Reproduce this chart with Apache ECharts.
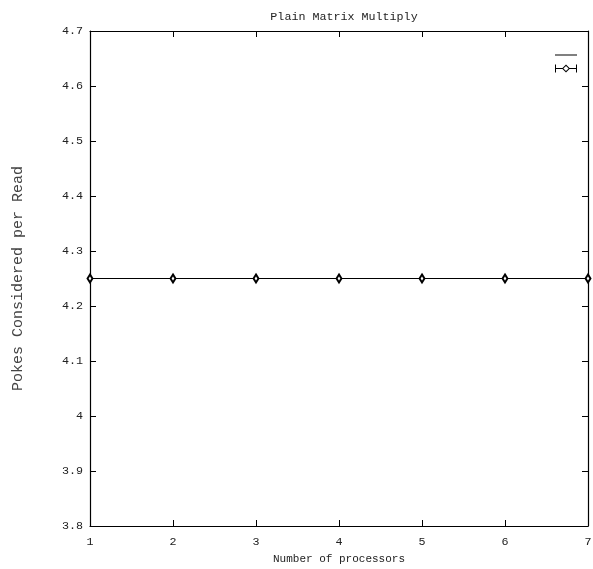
<!DOCTYPE html>
<html>
<head>
<meta charset="utf-8">
<script src="https://cdn.jsdelivr.net/npm/echarts@6/dist/echarts.min.js"></script>
<style>
html,body{margin:0;padding:0;background:#fff;}
#c{width:593px;height:569px;}
</style>
</head>
<body>
<div id="c"></div>
<script>
const titleText = 'Plain Matrix Multiply';
const xName = 'Number of processors';
const yName = 'Pokes Considered per Read';
const processors = [1, 2, 3, 4, 5, 6, 7];
const pokesPerRead = [4.25, 4.25, 4.25, 4.25, 4.25, 4.25, 4.25];
const yTicks = [3.8, 3.9, 4, 4.1, 4.2, 4.3, 4.4, 4.5, 4.6, 4.7];

const FONT = 'Liberation Mono';
const TXT = '#222';
const points = processors.map((p, i) => [p, pokesPerRead[i]]);

const chart = echarts.init(document.getElementById('c'), null, {renderer: 'canvas'});
const axisLine = {show: true, onZero: false, lineStyle: {color: '#000', width: 1.2}};
const axisTick = {show: true, inside: true, length: 6, lineStyle: {color: '#000', width: 1}};
chart.setOption({
  animation: false,
  backgroundColor: '#fff',
  title: {
    text: titleText, left: 339, top: 6, textAlign: 'center',
    textStyle: {fontFamily: FONT, fontSize: 11.7, fontWeight: 'normal', color: TXT}
  },
  grid: {left: 90, right: 5, top: 31, bottom: 43, containLabel: false, outerBoundsMode: 'none'},
  legend: {
    left: 555, top: 51, padding: 0, orient: 'vertical',
    itemWidth: 22, itemHeight: 8, itemGap: 9,
    formatter: () => '',
    data: [
      {name: 'lines', icon: 'path://M0,0H22V1H0Z'},
      {name: 'errorbars', icon: 'path://M0,3.5H7.6V4.5H0ZM14.4,3.5H22V4.5H14.4ZM0,0H1V8H0ZM21,0H22V8H21ZM11,0L15,4L11,8L7,4ZM11,1.4L8.4,4L11,6.6L13.6,4Z'}
    ],
    itemStyle: {color: '#000', borderWidth: 0}
  },
  xAxis: [{
    type: 'value', min: 1, max: 7, interval: 1, position: 'bottom',
    name: xName, nameLocation: 'middle', nameGap: 28,
    nameTextStyle: {fontFamily: FONT, fontSize: 11, color: TXT},
    axisLine, axisTick, splitLine: {show: false},
    axisLabel: {fontFamily: FONT, fontSize: 11.7, color: TXT, margin: 10}
  }, {
    type: 'value', min: 1, max: 7, interval: 1, position: 'top',
    axisLine, axisTick, splitLine: {show: false}, axisLabel: {show: false}
  }],
  yAxis: [{
    type: 'value', min: yTicks[0], max: yTicks[yTicks.length - 1], interval: 0.1, position: 'left',
    name: yName, nameLocation: 'middle', nameGap: 64,
    nameTextStyle: {fontFamily: FONT, fontSize: 15, color: '#444'},
    axisLine, axisTick, splitLine: {show: false},
    axisLabel: {fontFamily: FONT, fontSize: 11.7, color: TXT, margin: 7,
      formatter: v => String(Math.round(v * 10) / 10)}
  }, {
    type: 'value', min: yTicks[0], max: yTicks[yTicks.length - 1], interval: 0.1, position: 'right',
    axisLine, axisTick, splitLine: {show: false}, axisLabel: {show: false}
  }],
  series: [{
    name: 'lines', type: 'line', data: points, symbol: 'none',
    color: '#000', lineStyle: {color: '#000', width: 1}, z: 2
  }, {
    name: 'errorbars', type: 'line', data: points, symbol: 'emptyDiamond', symbolSize: [5, 8],
    color: '#000', lineStyle: {width: 0, opacity: 0},
    itemStyle: {color: '#000', borderColor: '#000', borderWidth: 0.8}, z: 3
  }]
});
</script>
</body>
</html>
